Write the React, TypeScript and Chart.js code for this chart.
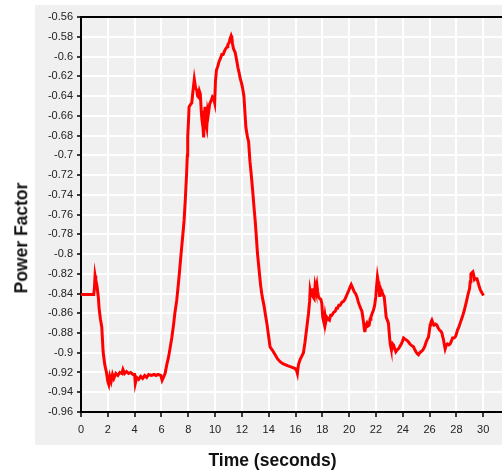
import React, { useEffect, useRef } from 'react';
import Chart from 'chart.js/auto';

const timeSeconds = [
  0, 0.95, 1.0, 1.05, 1.1, 1.2, 1.3, 1.35, 1.45, 1.55, 1.65, 1.77, 1.9, 2.0, 2.07, 2.15, 2.25, 2.35, 2.45, 2.6,
  2.75, 2.9, 3.05, 3.13, 3.25, 3.4, 3.55, 3.7, 3.88, 4.0, 4.05, 4.15, 4.3, 4.45, 4.6, 4.75, 4.9, 5.05, 5.25, 5.45,
  5.6, 5.75, 5.95, 6.05, 6.15, 6.27, 6.4, 6.52, 6.65, 6.77, 6.9, 7.0, 7.14, 7.25, 7.34, 7.45, 7.51, 7.6, 7.69, 7.78,
  7.88, 7.93, 7.96, 8.02, 8.06, 8.15, 8.26, 8.35, 8.45, 8.55, 8.63, 8.7, 8.76, 8.83, 8.9, 8.97, 9.02, 9.1, 9.15, 9.2,
  9.25, 9.32, 9.38, 9.45, 9.5, 9.6, 9.7, 9.8, 9.9, 9.97, 10.03, 10.1, 10.2, 10.3, 10.4, 10.5, 10.6, 10.75, 10.9, 10.95,
  11.05, 11.12, 11.2, 11.25, 11.3, 11.37, 11.5, 11.6, 11.7, 11.8, 11.87, 11.97, 12.04, 12.15, 12.22, 12.3, 12.42, 12.5, 12.6, 12.7,
  12.8, 12.9, 12.99, 13.08, 13.16, 13.24, 13.31, 13.4, 13.48, 13.57, 13.66, 13.76, 13.86, 13.98, 14.1, 14.3, 14.48, 14.65, 14.85, 15.05,
  15.22, 15.4, 15.6, 15.8, 15.97, 16.08, 16.14, 16.22, 16.34, 16.45, 16.59, 16.7, 16.79, 16.88, 16.97, 17.05, 17.09, 17.16, 17.22, 17.3,
  17.39, 17.46, 17.52, 17.59, 17.65, 17.71, 17.8, 17.89, 17.96, 18.03, 18.13, 18.2, 18.27, 18.33, 18.43, 18.53, 18.62, 18.71, 18.85, 18.96,
  19.05, 19.13, 19.23, 19.33, 19.45, 19.58, 19.68, 19.78, 19.9, 20.0, 20.08, 20.15, 20.25, 20.37, 20.47, 20.57, 20.67, 20.77, 20.86, 20.95,
  21.02, 21.07, 21.12, 21.17, 21.25, 21.32, 21.4, 21.49, 21.56, 21.62, 21.72, 21.81, 21.9, 21.99, 22.05, 22.11, 22.17, 22.22, 22.27, 22.31,
  22.38, 22.44, 22.52, 22.61, 22.7, 22.76, 22.85, 22.93, 23.0, 23.06, 23.12, 23.18, 23.25, 23.31, 23.4, 23.48, 23.58, 23.68, 23.77, 23.86,
  23.96, 24.06, 24.15, 24.25, 24.35, 24.43, 24.52, 24.6, 24.7, 24.8, 24.9, 24.98, 25.08, 25.17, 25.26, 25.35, 25.45, 25.55, 25.65, 25.75,
  25.84, 25.92, 25.98, 26.04, 26.1, 26.17, 26.25, 26.34, 26.44, 26.54, 26.64, 26.74, 26.83, 26.92, 26.98, 27.04, 27.1, 27.16, 27.25, 27.34,
  27.44, 27.54, 27.63, 27.71, 27.81, 27.91, 28.0, 28.08, 28.18, 28.28, 28.38, 28.48, 28.57, 28.66, 28.75, 28.83, 28.9, 28.98, 29.03, 29.08,
  29.15, 29.23, 29.3, 29.35, 29.44, 29.53, 29.62, 29.7, 29.78, 29.85, 29.93, 30.02,
];

const powerFactor = [
  -0.841, -0.841, -0.835, -0.822, -0.826, -0.833, -0.845, -0.855, -0.866, -0.874, -0.899, -0.912, -0.92, -0.929, -0.932, -0.924, -0.929, -0.922, -0.926, -0.921,
  -0.923, -0.92, -0.921, -0.917, -0.921, -0.919, -0.921, -0.92, -0.922, -0.922, -0.931, -0.925, -0.927, -0.924, -0.926, -0.923, -0.925, -0.922, -0.923, -0.922,
  -0.923, -0.922, -0.923, -0.928, -0.925, -0.921, -0.912, -0.905, -0.895, -0.885, -0.872, -0.86, -0.847, -0.832, -0.819, -0.802, -0.793, -0.78, -0.766, -0.745,
  -0.718, -0.7, -0.681, -0.665, -0.651, -0.649, -0.647, -0.635, -0.623, -0.632, -0.634, -0.64, -0.641, -0.635, -0.638, -0.655, -0.664, -0.672, -0.682, -0.66,
  -0.651, -0.668, -0.672, -0.655, -0.658, -0.648, -0.645, -0.641, -0.643, -0.647, -0.625, -0.614, -0.61, -0.605, -0.602, -0.598, -0.598, -0.593, -0.59, -0.588,
  -0.586, -0.582, -0.579, -0.581, -0.587, -0.592, -0.596, -0.603, -0.611, -0.617, -0.622, -0.627, -0.631, -0.64, -0.655, -0.672, -0.682, -0.686, -0.706, -0.72,
  -0.735, -0.752, -0.766, -0.783, -0.799, -0.81, -0.82, -0.832, -0.84, -0.847, -0.853, -0.862, -0.87, -0.882, -0.894, -0.898, -0.902, -0.906, -0.909, -0.911,
  -0.912, -0.913, -0.914, -0.915, -0.916, -0.918, -0.921, -0.912, -0.907, -0.904, -0.9, -0.89, -0.88, -0.87, -0.86, -0.848, -0.837, -0.842, -0.835, -0.843,
  -0.845, -0.832, -0.836, -0.831, -0.838, -0.843, -0.845, -0.846, -0.85, -0.864, -0.87, -0.862, -0.868, -0.864, -0.866, -0.867, -0.862, -0.862, -0.859, -0.858,
  -0.855, -0.855, -0.852, -0.852, -0.849, -0.848, -0.846, -0.843, -0.839, -0.836, -0.833, -0.831, -0.834, -0.838, -0.84, -0.843, -0.848, -0.852, -0.855, -0.858,
  -0.864, -0.869, -0.875, -0.879, -0.872, -0.87, -0.873, -0.872, -0.866, -0.864, -0.86, -0.857, -0.852, -0.843, -0.832, -0.823, -0.828, -0.833, -0.842, -0.842,
  -0.836, -0.838, -0.841, -0.843, -0.855, -0.864, -0.867, -0.87, -0.882, -0.891, -0.895, -0.896, -0.891, -0.892, -0.896, -0.899, -0.897, -0.896, -0.894, -0.892,
  -0.889, -0.885, -0.886, -0.887, -0.888, -0.889, -0.891, -0.892, -0.893, -0.894, -0.897, -0.899, -0.901, -0.902, -0.9, -0.899, -0.898, -0.896, -0.893, -0.889,
  -0.886, -0.884, -0.878, -0.872, -0.869, -0.867, -0.87, -0.872, -0.871, -0.872, -0.875, -0.877, -0.878, -0.88, -0.884, -0.887, -0.892, -0.896, -0.892, -0.891,
  -0.892, -0.891, -0.888, -0.885, -0.885, -0.884, -0.881, -0.877, -0.874, -0.87, -0.866, -0.862, -0.858, -0.853, -0.848, -0.843, -0.839, -0.835, -0.828, -0.82,
  -0.819, -0.818, -0.822, -0.826, -0.825, -0.825, -0.829, -0.833, -0.836, -0.838, -0.84, -0.842,
];

// x axis tick marks (seconds)
const xTickValues = [0, 2, 4, 6, 8, 10, 12, 14, 16, 18, 20, 22, 24, 26, 28, 30];

const FONT = '"Liberation Sans", Arial, sans-serif';

// black line along the top of the plot area
const topBorder = {
  id: 'topBorder',
  beforeDatasetsDraw(chart: Chart) {
    const { ctx, chartArea } = chart;
    ctx.save();
    ctx.strokeStyle = '#000';
    ctx.lineWidth = 2;
    ctx.beginPath();
    ctx.moveTo(chartArea.left, chartArea.top);
    ctx.lineTo(chartArea.right, chartArea.top);
    ctx.stroke();
    ctx.restore();
  },
};

const PowerFactorChart: React.FC = () => {
  const canvasRef = useRef<HTMLCanvasElement>(null);
  const chartRef = useRef<Chart | null>(null);

  useEffect(() => {
    if (!canvasRef.current) return;
    if (chartRef.current) chartRef.current.destroy();

    const points = timeSeconds.map((t, i) => ({ x: t, y: powerFactor[i] }));

    chartRef.current = new Chart(canvasRef.current, {
      type: 'line',
      data: {
        datasets: [
          {
            label: 'Power Factor',
            data: points,
            borderColor: '#ff0000',
            borderWidth: 3,
            pointRadius: 0,
            tension: 0,
          },
        ],
      },
      options: {
        animation: false,
        responsive: true,
        maintainAspectRatio: false,
        layout: { padding: { left: 35, top: 17, right: 0, bottom: 0 } },
        plugins: {
          legend: { display: false },
          tooltip: { enabled: false },
        },
        scales: {
          x: {
            type: 'linear',
            min: 0,
            max: 31.4,
            afterBuildTicks: (scale: any) => {
              scale.ticks = xTickValues.map((v) => ({ value: v }));
            },
            afterFit: (scale: any) => {
              scale.height = 61;
            },
            ticks: {
              maxRotation: 0,
              autoSkip: false,
              padding: 6,
              color: '#222',
              font: { family: FONT, size: 11 },
            },
            grid: { color: '#ffffff', lineWidth: 2, tickColor: '#000', tickWidth: 1.5, tickLength: 5 },
            border: { color: '#000', width: 2 },
          },
          y: {
            min: -0.96,
            max: -0.56,
            afterFit: (scale: any) => {
              scale.width = 46;
            },
            ticks: {
              stepSize: 0.02,
              autoSkip: false,
              padding: 4,
              color: '#222',
              font: { family: FONT, size: 11 },
              callback: (v: any) => parseFloat(Number(v).toFixed(2)).toString(),
            },
            grid: { color: '#ffffff', lineWidth: 2, tickColor: '#000', tickWidth: 1.5, tickLength: 4 },
            border: { color: '#000', width: 2 },
          },
        },
      },
      plugins: [topBorder],
    });

    return () => {
      if (chartRef.current) {
        chartRef.current.destroy();
        chartRef.current = null;
      }
    };
  }, []);

  const titleStyle: React.CSSProperties = {
    position: 'absolute',
    font: `bold 17.5px ${FONT}`,
    lineHeight: 1,
    color: '#111',
    whiteSpace: 'nowrap',
  };

  return (
    <div style={{ position: 'fixed', left: 0, top: 0, width: 502, height: 473, background: '#fff', overflow: 'hidden' }}>
      <div style={{ position: 'absolute', left: 35, top: 5, width: 467, height: 440, background: '#f0f0f0' }} />
      <div style={{ position: 'absolute', left: 0, top: 0, width: 502, height: 473 }}>
        <canvas ref={canvasRef}></canvas>
      </div>
      <div style={{ ...titleStyle, left: 272.5, top: 460.5, transform: 'translate(-50%, -50%)' }}>Time (seconds)</div>
      <div style={{ ...titleStyle, left: 21.5, top: 238, transform: 'translate(-50%, -50%) rotate(-90deg)' }}>
        Power Factor
      </div>
    </div>
  );
};

export default function App() {
  return <PowerFactorChart />;
}
